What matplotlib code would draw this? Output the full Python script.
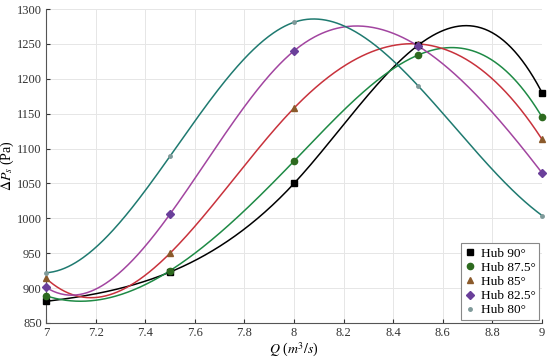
import numpy as np
import matplotlib
matplotlib.use('Agg')
import matplotlib.pyplot as plt

# flow rate and static pressure rise for each hub angle
q = [7, 7.5, 8, 8.5, 9]
hub90 = [881, 923, 1050, 1248, 1180]
hub875 = [889, 925, 1082, 1234, 1145]
hub85 = [914, 950, 1158, 1250, 1113]
hub825 = [901, 1006, 1240, 1247, 1065]
hub80 = [922, 1089, 1281, 1190, 1004]

labels = ['Hub 90°', 'Hub 87.5°', 'Hub 85°', 'Hub 82.5°', 'Hub 80°']
xticks = [7, 7.2, 7.4, 7.6, 7.8, 8, 8.2, 8.4, 8.6, 8.8, 9]
xtick_labels = ['7', '7.2', '7.4', '7.6', '7.8', '8', '8.2', '8.4', '8.6', '8.8', '9']
yticks = [850, 900, 950, 1000, 1050, 1100, 1150, 1200, 1250, 1300]


def spline_notaknot(x, y, xs):
    # not-a-knot cubic spline for 5 points = two cubics joined C2 at the middle point
    x = np.asarray(x, float)
    y = np.asarray(y, float)
    xm = x[2]
    A = np.zeros((8, 8))
    b = np.zeros(8)
    r = 0
    for k, side in [(0, 0), (1, 0), (2, 0), (2, 1), (3, 1), (4, 1)]:
        t = x[k] - xm
        A[r, side * 4:side * 4 + 4] = [1, t, t**2, t**3]
        b[r] = y[k]
        r += 1
    # first and second derivative continuity at xm
    A[6, 1], A[6, 5] = 1, -1
    A[7, 2], A[7, 6] = 1, -1
    c = np.linalg.solve(A, b)
    t = xs - xm
    left = c[0] + c[1] * t + c[2] * t**2 + c[3] * t**3
    right = c[4] + c[5] * t + c[6] * t**2 + c[7] * t**3
    return np.where(xs <= xm, left, right)


plt.rcParams['font.family'] = 'Liberation Serif'
plt.rcParams['mathtext.fontset'] = 'stix'

fig = plt.figure(figsize=(5.5, 3.63), dpi=100)
ax = fig.add_axes([0.0836, 0.1102, 0.902, 0.865])

series = [hub90, hub875, hub85, hub825, hub80]
line_colors = ['#000000', '#1e8a45', '#c8323c', '#a245a0', '#1f7a70']
marker_colors = ['#000000', '#2d6a1f', '#8b5a2b', '#6a3f9a', '#7f9a9a']
markers = ['s', 'o', '^', 'D', 'o']
msizes = [4, 4.5, 5, 4, 2.5]

xs = np.linspace(7, 9, 400)
for vals, lc, mc, m, ms, lab in zip(series, line_colors, marker_colors, markers, msizes, labels):
    ax.plot(xs, spline_notaknot(q, vals, xs), color=lc, lw=1.1)
    ax.plot(q, vals, linestyle='none', marker=m, color=mc, ms=ms, label=lab, clip_on=False, zorder=3)

ax.set_xlim(7, 9)
ax.set_ylim(850, 1300)
ax.set_xticks(xticks)
ax.set_xticklabels(xtick_labels)
ax.set_yticks(yticks)
ax.tick_params(direction='in', labelsize=9, colors='#333333', length=3, pad=3)
ax.grid(True, color='#e6e6e6', lw=0.7)
ax.set_axisbelow(True)
for s in ['top', 'right']:
    ax.spines[s].set_visible(False)
for s in ['left', 'bottom']:
    ax.spines[s].set_color('#555555')
    ax.spines[s].set_linewidth(0.8)

ax.set_xlabel(r'$Q$ ($m^3/s$)', fontsize=10, labelpad=1)
ax.set_ylabel(r'$\Delta P_s$ (Pa)', fontsize=10)
ax.yaxis.set_label_coords(-0.06, 0.5)

leg = ax.legend(loc='lower right', fontsize=9.5, handlelength=0.8, handletextpad=0.4,
                borderpad=0.3, labelspacing=0.15, fancybox=False, framealpha=1,
                edgecolor='#888888', borderaxespad=0.2)
leg.get_frame().set_linewidth(0.8)

fig.savefig('out.png', dpi=100)
